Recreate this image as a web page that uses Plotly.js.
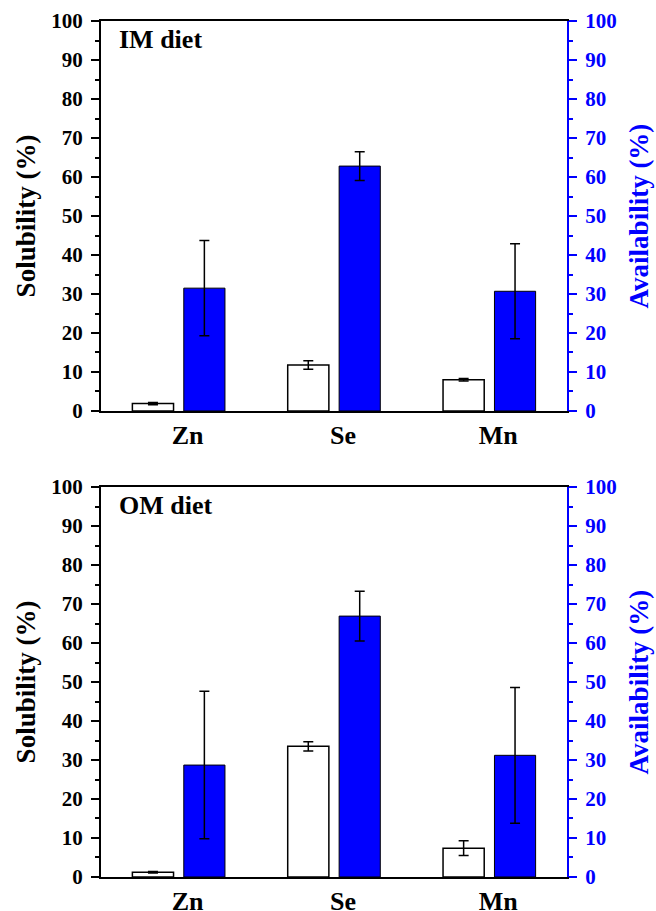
<!DOCTYPE html>
<html>
<head>
<meta charset="utf-8">
<script src="https://cdn.plot.ly/plotly-3.0.1.min.js"></script>
<style>html,body{margin:0;padding:0;background:#fff;}#chart{width:656px;height:911px;}</style>
</head>
<body>
<div id="chart"></div>
<script>
// ---- data ----
const elements = ["Zn", "Se", "Mn"];
const panelLabels = ["IM diet", "OM diet"];

const imSolubility = [1.9, 11.8, 8.0];
const imSolubilityErr = [0.3, 1.1, 0.3];
const imAvailability = [31.5, 62.8, 30.7];
const imAvailabilityErr = [12.2, 3.7, 12.2];

const omSolubility = [1.2, 33.5, 7.4];
const omSolubilityErr = [0.2, 1.2, 1.9];
const omAvailability = [28.7, 66.9, 31.2];
const omAvailabilityErr = [18.9, 6.4, 17.4];

const yTickVals = [0, 10, 20, 30, 40, 50, 60, 70, 80, 90, 100];

// ---- styles ----
const FONT = "Liberation Serif, Times New Roman, serif";
const BLUE = "#0000ff";
const BAR_W = 0.265;

function solTrace(y, err, xa, ya) {
  return {
    type: "bar", x: elements, y: y, xaxis: xa, yaxis: ya,
    width: BAR_W, offset: -0.298,
    marker: {color: "#ffffff", line: {color: "#000000", width: 1.5}},
    error_y: {type: "data", array: err, visible: true, color: "#000000", thickness: 1.5, width: 5},
    showlegend: false, hoverinfo: "skip"
  };
}
function avTrace(y, err, xa, ya) {
  return {
    type: "bar", x: elements, y: y, xaxis: xa, yaxis: ya,
    width: BAR_W, offset: 0.033,
    marker: {color: BLUE, line: {color: "#000000", width: 1}},
    error_y: {type: "data", array: err, visible: true, color: "#000000", thickness: 1.5, width: 5},
    showlegend: false, hoverinfo: "skip"
  };
}

const data = [
  solTrace(imSolubility, imSolubilityErr, "x", "y"),
  avTrace(imAvailability, imAvailabilityErr, "x", "y2"),
  solTrace(omSolubility, omSolubilityErr, "x2", "y3"),
  avTrace(omAvailability, omAvailabilityErr, "x2", "y4")
];

function xAxis(anchor) {
  return {
    type: "category", range: [-0.5, 2.5], anchor: anchor,
    showline: true, linecolor: "#000000", linewidth: 2, mirror: true,
    ticks: "", showgrid: false, zeroline: false,
    tickfont: {family: FONT, size: 26, color: "#000000", weight: "bold"},
    ticklabelstandoff: 0, ticklabelshift: 9
  };
}
function leftAxis(domain, anchor) {
  return {
    domain: domain, anchor: anchor, range: [0, 100], tickvals: yTickVals,
    showline: true, linecolor: "#000000", linewidth: 2,
    ticks: "outside", ticklen: 8, tickwidth: 2, tickcolor: "#000000",
    minor: {dtick: 5, tick0: 0, ticks: "outside", ticklen: 4, tickwidth: 2, tickcolor: "#000000", showgrid: false},
    showgrid: false, zeroline: false,
    tickfont: {family: FONT, size: 21, color: "#000000", weight: "bold"},
    ticklabelstandoff: 4,
    title: {text: "Solubility (%)", font: {family: FONT, size: 27, color: "#000000", weight: "bold"}, standoff: 8}
  };
}
function rightAxis(overlay, anchor) {
  return {
    overlaying: overlay, anchor: anchor, side: "right", range: [0, 100], tickvals: yTickVals,
    showline: true, linecolor: BLUE, linewidth: 2,
    ticks: "outside", ticklen: 8, tickwidth: 2, tickcolor: BLUE,
    minor: {dtick: 5, tick0: 0, ticks: "outside", ticklen: 4, tickwidth: 2, tickcolor: BLUE, showgrid: false},
    showgrid: false, zeroline: false,
    tickfont: {family: FONT, size: 21, color: BLUE, weight: "bold"},
    ticklabelstandoff: 4,
    title: {text: "Availability (%)", font: {family: FONT, size: 27, color: BLUE, weight: "bold"}, standoff: 13}
  };
}

const layout = {
  width: 656, height: 911,
  margin: {l: 101, r: 89, t: 21, b: 34},
  paper_bgcolor: "#ffffff", plot_bgcolor: "#ffffff",
  font: {family: FONT, color: "#000000", weight: "bold"},
  barmode: "overlay",
  showlegend: false,
  xaxis: xAxis("y"),
  yaxis: leftAxis([0.5444, 1], "x"),
  yaxis2: rightAxis("y", "x"),
  xaxis2: xAxis("y3"),
  yaxis3: leftAxis([0, 0.4556], "x2"),
  yaxis4: rightAxis("y3", "x2"),
  annotations: [
    {text: panelLabels[0], xref: "x domain", yref: "y domain", x: 0.034, y: 0.952,
     xanchor: "left", yanchor: "middle", showarrow: false,
     font: {family: FONT, size: 26, color: "#000000", weight: "bold"}},
    {text: panelLabels[1], xref: "x2 domain", yref: "y3 domain", x: 0.034, y: 0.952,
     xanchor: "left", yanchor: "middle", showarrow: false,
     font: {family: FONT, size: 26, color: "#000000", weight: "bold"}}
  ]
};

Plotly.newPlot("chart", data, layout, {displayModeBar: false, staticPlot: true});
</script>
</body>
</html>
